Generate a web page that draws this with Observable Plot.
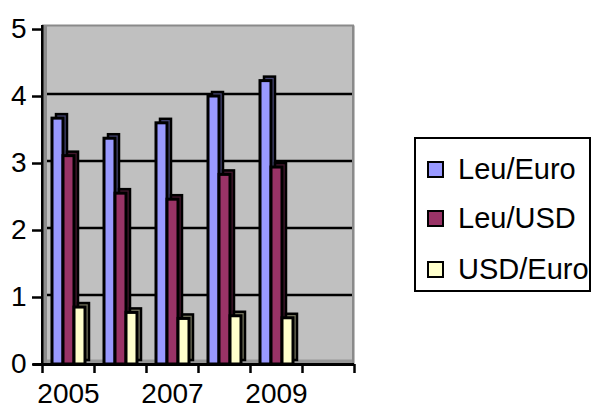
<!DOCTYPE html>
<html><head><meta charset="utf-8">
<script src="https://cdn.jsdelivr.net/npm/d3@7"></script>
<script src="https://cdn.jsdelivr.net/npm/@observablehq/plot@0.6"></script>
<style>
body{margin:0;background:#fff;font-family:"Liberation Sans",Arial,sans-serif;}
#wrap{position:relative;width:595px;height:410px;overflow:hidden;}
#legend{position:absolute;left:414px;top:137px;width:173px;height:151px;border:2.5px solid #000;background:#fff;}
.item{position:absolute;left:11px;height:32px;display:flex;align-items:center;font-size:29px;line-height:32px;color:#000;white-space:nowrap;}
.sw{width:13px;height:13px;border:2px solid #000;margin-right:14px;flex:none;}
</style></head><body><div id="wrap"></div>
<script>
const slots = ["2005","2006","2007","2008","2009","2010"];
const series = ["Leu/Euro","Leu/USD","USD/Euro"];
const leuEuro = [3.67, 3.37, 3.60, 4.00, 4.23];
const leuUsd = [3.11, 2.55, 2.46, 2.83, 2.94];
const usdEuro = [0.85, 0.77, 0.68, 0.72, 0.69];
const colors = ["#9999ff","#993366","#ffffcc"];
const yTicks = [0,1,2,3,4,5];
const xTickLabels = ["2005","2007","2009"];

const valuesBySeries = [leuEuro, leuUsd, usdEuro];
const data = [];
slots.forEach((slot, i) => {
  series.forEach((s, j) => {
    const v = valuesBySeries[j][i];
    data.push({slot, series: s, value: v === undefined ? null : v});
  });
});

const W = 595, H = 410, ML = 42, MR = 241, MT = 25, MB = 46;
const bw = (W - ML - MR) / slots.length;
const yMax = 5.06;

const chart = Plot.plot({
  width: W, height: H,
  marginLeft: ML, marginRight: MR, marginTop: MT, marginBottom: MB,
  style: {fontFamily: "'Liberation Sans', Arial, sans-serif", color: "#000", background: "transparent", overflow: "visible"},
  fx: {domain: slots, padding: 0, axis: null, label: null},
  x: {domain: series, paddingInner: 0, paddingOuter: 0.77, axis: null},
  y: {domain: [0, yMax], axis: null},
  color: {domain: series, range: colors},
  marks: [
    Plot.frame({fill: "#c0c0c0", insetLeft: -0.5, insetRight: -0.5}),
    Plot.ruleY([yMax], {stroke: "#8a8a8a", strokeWidth: 2}),
    // floor
    Plot.ruleY([0], {stroke: "#979797", strokeWidth: 5, dy: -2.5}),
    // back-wall gridlines
    Plot.ruleY(yTicks.filter(v => v > 0 && v < 5), {stroke: "#000", strokeWidth: 2.5, dy: -2.5}),
    // left wall
    Plot.barY(slots.slice(0, 1), {fx: d => d, y1: 0, y2: yMax, fill: "#8c8c8c", insetRight: bw - 5}),
    // right edge
    Plot.barY(slots.slice(-1), {fx: d => d, y1: 0, y2: yMax, fill: "#8a8a8a", insetLeft: bw - 2}),
    // left axis line
    Plot.barY(slots.slice(0, 1), {fx: d => d, y1: 0, y2: yMax, fill: "#000", insetRight: bw - 2.5, dx: -1}),
    // bar depth
    Plot.barY(data, {fx: "slot", x: "series", y1: 0, y2: "value", fill: "#000", dx: 4, dy: -4}),
    Plot.barY(data, {fx: "slot", x: "series", y1: 0, y2: "value", fill: "series", fillOpacity: 0.45, stroke: "#000", strokeWidth: 2.5, dx: 4, dy: -4}),
    // bar fronts
    Plot.barY(data, {fx: "slot", x: "series", y1: 0, y2: "value", fill: "series", stroke: "#000", strokeWidth: 3}),
    // x axis line
    Plot.ruleY([0], {stroke: "#000", strokeWidth: 3}),
    Plot.ruleY([0], {fx: () => slots[0], stroke: "#000", strokeWidth: 3, insetLeft: -9}),
    // boundary ticks
    Plot.axisFx({anchor: "bottom", tickSize: 9, tickFormat: () => "", dx: -bw / 2, strokeWidth: 2.5, label: null}),
    Plot.axisFx({anchor: "bottom", ticks: slots.slice(-1), tickSize: 9, tickFormat: () => "", dx: bw / 2, strokeWidth: 2.5, label: null}),
    // year labels
    Plot.axisFx({anchor: "bottom", ticks: xTickLabels, tickSize: 0, tickPadding: 19, fontSize: 28, label: null}),
    // y axis
    Plot.axisY({ticks: yTicks, tickSize: 10, tickPadding: 6, fontSize: 28, strokeWidth: 2.5, tickFormat: d3.format("d"), label: null})
  ]
});

const wrap = document.getElementById("wrap");
wrap.appendChild(chart);

const legend = document.createElement("div");
legend.id = "legend";
const rowTops = [14, 63, 114];
series.forEach((s, i) => {
  const item = document.createElement("div");
  item.className = "item";
  item.style.top = rowTops[i] + "px";
  const sw = document.createElement("span");
  sw.className = "sw";
  sw.style.background = colors[i];
  const t = document.createElement("span");
  t.textContent = s;
  item.appendChild(sw);
  item.appendChild(t);
  legend.appendChild(item);
});
wrap.appendChild(legend);
</script>
</body></html>
